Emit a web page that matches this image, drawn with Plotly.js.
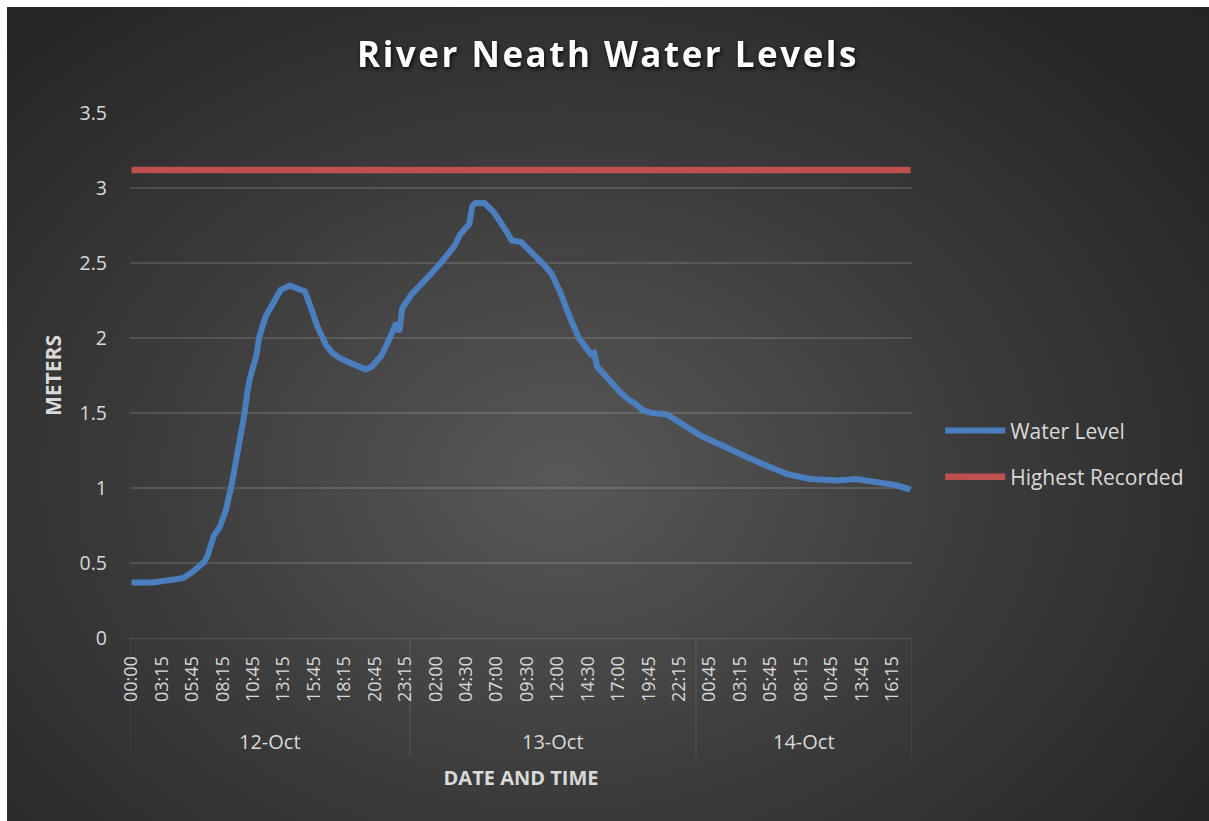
<!DOCTYPE html>
<html>
<head>
<meta charset="utf-8">
<script src="https://cdn.plot.ly/plotly-3.0.1.min.js"></script>
<style>
  html, body { margin: 0; padding: 0; background: #ffffff; }
  #chart {
    position: absolute; left: 7px; top: 7px; width: 1202px; height: 814px;
    background: radial-gradient(ellipse 75% 85% at 46% 58%, #585858 0%, #3c3c3c 45%, #272727 85%, #242424 100%);
  }
  #chart .gtitle { letter-spacing: 2.5px; filter: drop-shadow(1px 2px 2px rgba(0,0,0,0.85)); }
</style>
</head>
<body>
<div id="chart"></div>
<script>
// Category positions (15-minute readings) sampled from the chart, and water levels (m)
const readingIndex = [0, 7, 14, 17, 20, 24, 25, 27, 29, 31, 33, 35, 37, 38, 39, 41, 42, 44, 47, 49,
  52, 55, 57, 59, 61, 64, 66, 69, 72, 74, 77, 79, 82, 84, 86, 87, 88, 89, 92, 95,
  99, 102, 106, 108, 111, 112, 113, 116, 119, 122, 125, 128, 130, 133, 135, 138, 141, 144, 147, 151,
  152, 153, 157, 161, 164, 165, 168, 171, 176, 181, 183, 187, 194, 202, 204, 211, 216, 223, 232, 238,
  245, 251, 256];
const waterLevel = [0.37, 0.37, 0.39, 0.40, 0.44, 0.51, 0.55, 0.68, 0.74, 0.85, 1.03, 1.23, 1.48, 1.63, 1.74, 1.88, 2.01, 2.14, 2.26, 2.32,
  2.35, 2.32, 2.31, 2.20, 2.08, 1.95, 1.90, 1.86, 1.83, 1.82, 1.79, 1.81, 1.88, 1.96, 2.05, 2.10, 2.04, 2.20, 2.29, 2.35,
  2.44, 2.51, 2.61, 2.69, 2.76, 2.88, 2.90, 2.90, 2.84, 2.75, 2.65, 2.64, 2.60, 2.55, 2.50, 2.43, 2.30, 2.14, 2.00, 1.89,
  1.90, 1.81, 1.72, 1.63, 1.58, 1.57, 1.52, 1.50, 1.49, 1.42, 1.40, 1.35, 1.28, 1.20, 1.19, 1.13, 1.09, 1.06, 1.05, 1.06,
  1.04, 1.02, 0.99];
const highestRecorded = 3.12;
const categoryCount = 257;

// Tick labels shown (every 10th category)
const tickIndex = [0, 10, 20, 30, 40, 50, 60, 70, 80, 90, 100, 110, 120, 130, 140, 150, 160, 170, 180, 190, 200, 210, 220, 230, 240, 250];
const tickLabels = ["00:00", "03:15", "05:45", "08:15", "10:45", "13:15", "15:45", "18:15", "20:45", "23:15",
  "02:00", "04:30", "07:00", "09:30", "12:00", "14:30", "17:00", "19:45", "22:15",
  "00:45", "03:15", "05:45", "08:15", "10:45", "13:45", "16:15"];

// Day groups: label and first category of each day
const days = ["12-Oct", "13-Oct", "14-Oct"];
const dayStart = [0, 92, 186];

const lo = -0.5, hi = categoryCount - 0.5;
const dayBounds = dayStart.map(d => d - 0.5).concat([hi]);

const gridCol = 'rgba(255,255,255,0.13)';
const textCol = '#d9d9d9';
const font = 'Open Sans, Noto Sans, sans-serif';

const shapes = dayBounds.map(b => ({
  type: 'line', xref: 'x', yref: 'paper', x0: b, x1: b, y0: 0, y1: -0.227,
  line: {color: gridCol, width: 1}
}));
const annotations = days.map((d, i) => ({
  text: d, xref: 'x', yref: 'paper', x: (dayBounds[i] + dayBounds[i + 1]) / 2, y: -0.198,
  showarrow: false, xanchor: 'center', yanchor: 'middle',
  font: {family: font, size: 20, color: textCol}
}));

const traces = [
  {
    x: readingIndex, y: waterLevel, type: 'scatter', mode: 'lines', name: 'Water Level',
    line: {color: '#4a7ebf', width: 6, shape: 'linear'}, legendgroup: 'a'
  },
  {
    x: [0, categoryCount - 1], y: [highestRecorded, highestRecorded], type: 'scatter', mode: 'lines',
    name: 'Highest Recorded', line: {color: '#c0504d', width: 6.5}, legendgroup: 'b'
  }
];

const layout = {
  width: 1202, height: 814,
  margin: {l: 123, r: 297, t: 106, b: 183},
  paper_bgcolor: 'rgba(0,0,0,0)', plot_bgcolor: 'rgba(0,0,0,0)',
  title: {
    text: '<b>River Neath Water Levels</b>', x: 0.5, xref: 'container', xanchor: 'center',
    y: 0.941, yref: 'container', yanchor: 'middle',
    font: {family: font, size: 35, color: '#ffffff'}
  },
  xaxis: {
    range: [lo, hi], tickmode: 'array', tickvals: tickIndex, ticktext: tickLabels,
    tickangle: -90, showgrid: false, zeroline: false, showline: true, linecolor: gridCol, linewidth: 1,
    ticks: '', ticklabelstandoff: 10,
    tickfont: {family: font, size: 18, color: textCol},
    title: {text: '<b>DATE AND TIME</b>', standoff: 69, font: {family: font, size: 20, color: textCol}}
  },
  yaxis: {
    range: [0, 3.5], dtick: 0.5, tick0: 0, showgrid: true, gridcolor: gridCol, gridwidth: 1.5,
    zeroline: false, showline: false, ticks: '', ticklabelstandoff: 22,
    tickfont: {family: font, size: 19.5, color: textCol},
    title: {text: '<b>METERS</b>', standoff: 12, font: {family: font, size: 21, color: textCol}}
  },
  showlegend: true,
  legend: {
    x: 1.036, xanchor: 'left', y: 0.351, yanchor: 'middle', bgcolor: 'rgba(0,0,0,0)',
    font: {family: font, size: 21, color: textCol}, traceorder: 'grouped', tracegroupgap: 16,
    itemwidth: 60
  },
  shapes: shapes,
  annotations: annotations
};

Plotly.newPlot('chart', traces, layout, {displayModeBar: false, responsive: false});
</script>
</body>
</html>
